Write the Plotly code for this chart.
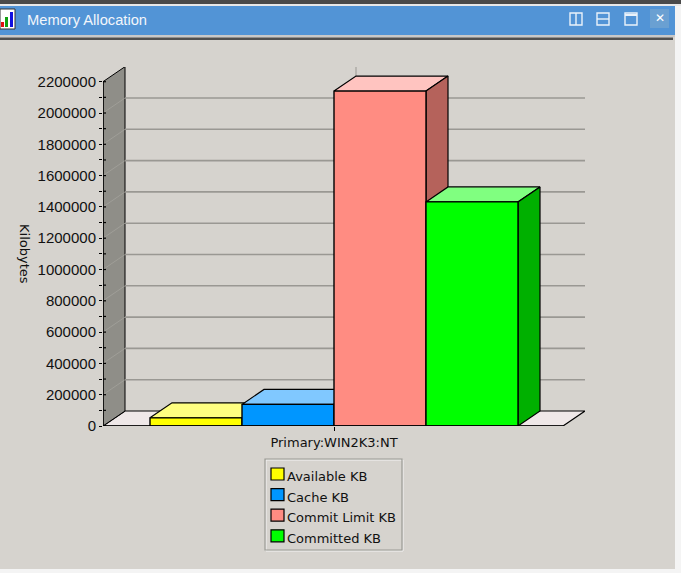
import plotly.graph_objects as go

title = "Memory Allocation"
series = ["Available KB", "Cache KB", "Commit Limit KB", "Committed KB"]
values = [52000, 138000, 2140000, 1432000]
front = ["#FFFF00", "#0096FF", "#FF8C82", "#00FF00"]
top = ["#FFFF80", "#80C8FF", "#FFC4C0", "#80FF80"]
side = ["#B3B300", "#0069B3", "#B5625B", "#00B000"]
category = "Primary:WIN2K3:NT"
y_major = list(range(0, 2200001, 200000))
y_minor = list(range(100000, 2200000, 200000))
y_title = "Kilobytes"

W, H = 681, 573
L, R, T, B = 103, 585, 67, 426
BAR_PX = 92.0
Y_PX = 31.3 / 200000
DX = 22 / BAR_PX
DY = 15 / Y_PX
X0 = (L - 150) / BAR_PX
X1 = (R - 150) / BAR_PX
Y1 = (B - T) / Y_PX
YTOP = y_major[-1]
CENTER = len(series) / 2
BG = "#D6D3CE"

def px(x): return (x - L) / (R - L)
def py(y): return (B - y) / (B - T)

fig = go.Figure()

def poly(xs, ys, fill, line="black", width=1.2):
    fig.add_trace(go.Scatter(x=xs, y=ys, mode="lines", fill="toself", fillcolor=fill,
                             line=dict(color=line, width=width), showlegend=False, hoverinfo="skip"))

def seg(xs, ys, color, width=1.0):
    fig.add_trace(go.Scatter(x=xs, y=ys, mode="lines", line=dict(color=color, width=width),
                             showlegend=False, hoverinfo="skip"))

# floor and left wall
floor_right = X1 - DX
poly([X0, floor_right, X1, X0 + DX, X0], [0, 0, DY, DY, 0], "#EFE8E8")
poly([X0, X0 + DX, X0 + DX, X0, X0], [0, DY, YTOP + DY, YTOP, 0], "#8F8E88", width=1.0)

# back-wall grid lines and faint wall diagonals
for v in y_major[1:]:
    if v < YTOP:
        seg([X0, X0 + DX], [v, v + DY], "#A3A29C", 0.8)
        seg([X0 + DX, X1], [v + DY, v + DY], "#9A9893", 1.6)
seg([CENTER + DX, CENTER + DX], [YTOP, YTOP + DY], "#9A9893", 1.0)

# bar tops and sides, left to right
for i, v in enumerate(values):
    poly([i, i + DX, i + 1 + DX, i + 1, i], [v, v + DY, v + DY, v, v], top[i])
    poly([i + 1, i + 1 + DX, i + 1 + DX, i + 1, i + 1], [0, DY, v + DY, v, 0], side[i])

# bar fronts over them
for i, (name, v) in enumerate(zip(series, values)):
    fig.add_trace(go.Bar(x=[i + 0.5], y=[v], width=[1], name=name, xaxis="x2", yaxis="y2",
                         marker=dict(color=front[i], line=dict(color="black", width=1.4)),
                         showlegend=False, hovertemplate=name + ": %{y}<extra></extra>"))

# axis lines
seg([X0, X0], [0, YTOP], "black", 1.4)
fig.add_trace(go.Scatter(x=[X0, floor_right], y=[0, 0], mode="lines", xaxis="x2", yaxis="y2",
                         line=dict(color="black", width=1.4), showlegend=False, hoverinfo="skip"))
# inner half of the axis ticks, which cross the axis line
for v in y_major + y_minor:
    seg([X0, X0 + 3 / BAR_PX], [v, v], "black", 1.2)

shapes, notes = [], []

def rect(x0, y0, x1, y1, fill=None, line=None, lw=1):
    shapes.append(dict(type="rect", xref="paper", yref="paper", layer="above",
                       x0=px(x0), x1=px(x1), y0=py(y0), y1=py(y1),
                       fillcolor=fill if fill else "rgba(0,0,0,0)",
                       line=dict(color=line if line else "rgba(0,0,0,0)", width=lw if line else 0)))

def text(x, y, s, size, color="#111111", anchor="left", angle=0, family="Liberation Sans"):
    notes.append(dict(xref="paper", yref="paper", x=px(x), y=py(y), text=s, showarrow=False,
                      xanchor=anchor, yanchor="middle", textangle=angle,
                      font=dict(family=family, size=size, color=color)))

# window chrome
rect(0, 0, 681, 4, "#4A4A4A")
rect(0, 4, 681, 6, "#E8E8E8")
rect(0, 6, 675, 35, "#5294D6")
rect(0, 35, 675, 37, "#C9C9C9")
rect(0, 37.5, 673, 40, "#4F4F4F")
rect(675, 6, 681, 573, "#F4F4F4")
rect(0, 569, 675, 573, "#F4F4F4")
rect(0, 9, 15, 29, "#FFFFFF", "#333333", 1)
rect(1, 22, 4, 27, "#E01010")
rect(5, 17, 8, 27, "#10A010")
rect(10, 12, 13, 27, "#1010E0")
text(25, 20, title, 14.7, "#F2F6FB", family="Liberation Sans")
# window buttons
for bx in (570, 597, 625):
    rect(bx, 13, bx + 12, 25, None, "#EAF2FA", 1.4)
shapes.append(dict(type="line", xref="paper", yref="paper", layer="above", x0=px(576), x1=px(576),
                   y0=py(13), y1=py(25), line=dict(color="#EAF2FA", width=1.4)))
shapes.append(dict(type="line", xref="paper", yref="paper", layer="above", x0=px(597), x1=px(609),
                   y0=py(19), y1=py(19), line=dict(color="#EAF2FA", width=1.4)))
shapes.append(dict(type="line", xref="paper", yref="paper", layer="above", x0=px(625), x1=px(637),
                   y0=py(15), y1=py(15), line=dict(color="#EAF2FA", width=2)))
rect(650, 9, 669, 28, "#6AA0D2")
text(659.5, 18, "✕", 12, "#FFFFFF", anchor="center", family="DejaVu Sans")

# axis title
text(25, 254, y_title, 13, anchor="center", angle=90, family="DejaVu Sans")

# legend box
rect(266, 460, 403, 551, None, "#F4F4F4", 1)
rect(265, 459, 402, 550, None, "#9A9A94", 1.2)
for i, name in enumerate(series):
    yc = 474 + i * 20.6
    rect(271, yc - 6, 284, yc + 6, front[i], "#000000", 1.2)
    text(285, yc + 2.5, name, 13, family="DejaVu Sans")

fig.update_layout(
    width=W, height=H, autosize=False, margin=dict(l=L, r=W - R, t=T, b=H - B),
    paper_bgcolor=BG, plot_bgcolor=BG, showlegend=False, barmode="overlay",
    shapes=shapes, annotations=notes,
    xaxis=dict(range=[X0, X1], showgrid=False, zeroline=False, showline=False,
               tickmode="array", tickvals=[CENTER], ticktext=[category], ticks="outside",
               ticklen=4, tickcolor="black", tickwidth=1,
               tickfont=dict(family="DejaVu Sans", size=13, color="#111111")),
    yaxis=dict(range=[0, Y1], showgrid=False, zeroline=False, showline=False,
               tickmode="array", tickvals=y_major, tickformat="d", ticks="outside",
               ticklen=3, tickcolor="black", tickwidth=1.4,
               tickfont=dict(family="Liberation Sans", size=15, color="#111111"),
               minor=dict(dtick=100000, tick0=0, ticks="outside", ticklen=3, tickcolor="black", tickwidth=1.2)),
    xaxis2=dict(range=[X0, X1], overlaying="x", visible=False),
    yaxis2=dict(range=[0, Y1], overlaying="y", visible=False),
)

fig.write_html("out.html", config={"displayModeBar": False},
               post_script="document.body.style.margin='0';document.body.style.overflow='hidden';")
